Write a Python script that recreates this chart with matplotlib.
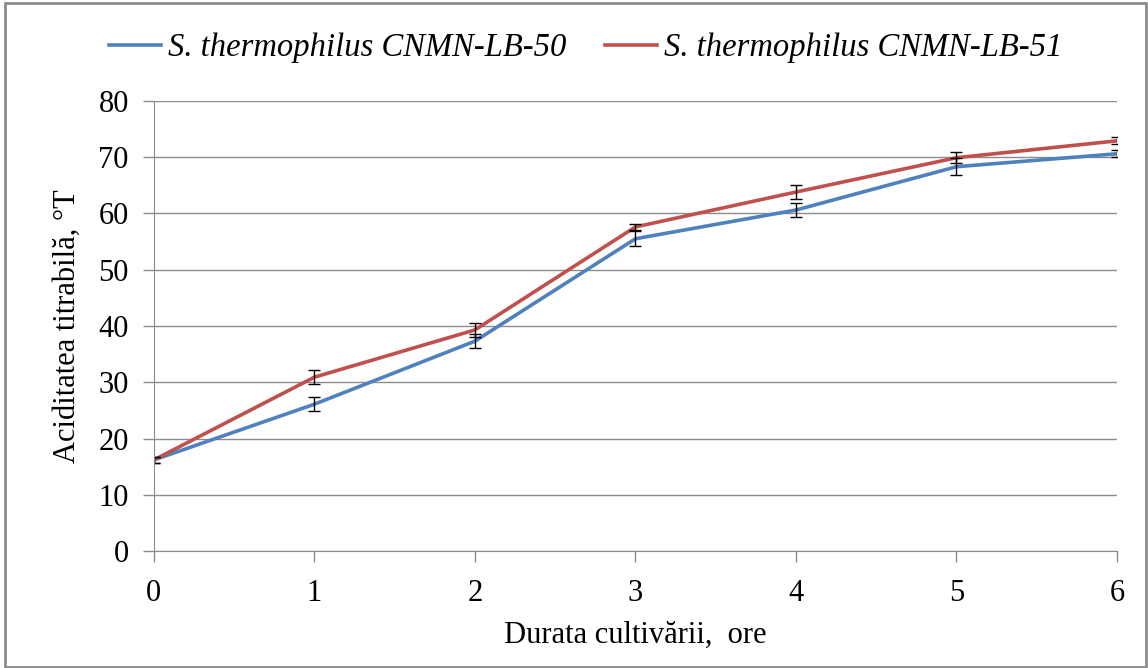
import matplotlib.pyplot as plt
from matplotlib.patches import Rectangle

# Durata cultivării, ore
hours = [0, 1, 2, 3, 4, 5, 6]
lb50 = [16.2, 26.1, 37.3, 55.5, 60.6, 68.3, 70.6]
lb51 = [16.2, 30.9, 39.3, 57.6, 63.8, 69.9, 72.9]
err50 = [0.5, 1.2, 1.3, 1.3, 1.2, 1.5, 0.6]
err51 = [0.5, 1.2, 1.2, 0.5, 1.2, 1.0, 0.6]

plt.rcParams['font.family'] = ['Liberation Serif', 'DejaVu Serif']

fig = plt.figure(figsize=(11.48, 6.68), dpi=100)
ax = fig.add_axes([0.134, 0.175, 0.839, 0.674])

ax.plot(hours, lb50, color='#4F81BD', lw=2.6, label='S. thermophilus CNMN-LB-50')
ax.plot(hours, lb51, color='#C0504D', lw=2.6, label='S. thermophilus CNMN-LB-51')
ax.errorbar(hours, lb50, yerr=err50, fmt='none', ecolor='black',
            elinewidth=1, capsize=4, capthick=1)
ax.errorbar(hours, lb51, yerr=err51, fmt='none', ecolor='black',
            elinewidth=1, capsize=4, capthick=1)

ax.set_xlim(0, 6)
ax.set_ylim(0, 80)
ax.set_xticks(hours)
ax.set_yticks(range(0, 81, 10))
ax.yaxis.grid(True, color='#8c8c8c', lw=1)
ax.set_axisbelow(True)
for s in ['top', 'right']:
    ax.spines[s].set_visible(False)
for s in ['left', 'bottom']:
    ax.spines[s].set_color('#8c8c8c')
ax.tick_params(axis='both', labelsize=22, color='#8c8c8c', length=8, width=1)
ax.tick_params(axis='x', pad=12)
ax.tick_params(axis='y', pad=10)

ax.set_xlabel('Durata cultivării,  ore', fontsize=22, labelpad=9)
ax.set_ylabel('Aciditatea titrabilă, °T', fontsize=22, labelpad=12)

leg = fig.legend(loc='center', bbox_to_anchor=(0.51, 0.928), ncol=2, frameon=False,
                 prop={'size': 23.5, 'style': 'italic'}, handlelength=1.6,
                 handletextpad=0.2, columnspacing=1.2)

fig.patches.append(Rectangle((0.004, 0.002), 0.994, 0.994, transform=fig.transFigure,
                             fill=False, edgecolor='#8c8c8c', lw=2))

fig.savefig('out.png', dpi=100)
